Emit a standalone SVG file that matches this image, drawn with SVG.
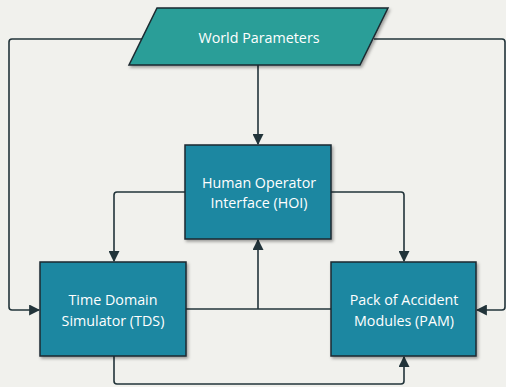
<svg xmlns="http://www.w3.org/2000/svg" width="506" height="387" viewBox="0 0 506 387">
<style>
.bg{fill:#f1f1ed}
.box{fill:#1d87a1;stroke:#1b2a30;stroke-width:1.5}
.wp{fill:#2b9e98;stroke:#1b2a30;stroke-width:1.5}
.t{font-family:"Open Sans","Liberation Sans",sans-serif;font-size:14.3px;fill:#ffffff;text-anchor:middle}
.c{fill:none;stroke:#22343a;stroke-width:1.6;stroke-linejoin:round}
</style>
<defs>
<marker id="ah" viewBox="0 0 10 10" refX="9" refY="5" markerWidth="11" markerHeight="11" markerUnits="userSpaceOnUse" orient="auto">
<path d="M0,0 L10,5 L0,10 z" fill="#22343a"/>
</marker>
<filter id="sh" x="-10%" y="-10%" width="130%" height="130%">
<feDropShadow dx="1.5" dy="2" stdDeviation="1.5" flood-color="#000" flood-opacity="0.35"/>
</filter>
</defs>
<rect class="bg" x="0" y="0" width="506" height="387"/>
<g id="connectors">
<path class="c" d="M143,39 H12 Q9,39 9,42 V307 Q9,310 12,310 H39" marker-end="url(#ah)"/>
<path class="c" d="M374,39 H502 Q505,39 505,42 V307 Q505,310 502,310 H477" marker-end="url(#ah)"/>
<path class="c" d="M258,65 V144" marker-end="url(#ah)"/>
<path class="c" d="M185,192 H117 Q114,192 114,195 V261" marker-end="url(#ah)"/>
<path class="c" d="M331,192 H401 Q404,192 404,195 V261" marker-end="url(#ah)"/>
<path class="c" d="M186,309 H331"/>
<path class="c" d="M258,309 V240" marker-end="url(#ah)"/>
<path class="c" d="M114,356 V381 Q114,384 117,384 H401 Q404,384 404,381 V357" marker-end="url(#ah)"/>
</g>
<g id="world-parameters">
<polygon class="wp" filter="url(#sh)" points="157,8 388,8 360,65 129,65"/>
<text class="t" x="259" y="43">World Parameters</text>
</g>
<g id="hoi">
<rect class="box" filter="url(#sh)" x="185" y="145" width="146" height="94"/>
<text class="t" x="259" y="188">Human Operator</text>
<text class="t" x="259" y="208">Interface (HOI)</text>
</g>
<g id="tds">
<rect class="box" filter="url(#sh)" x="40" y="262" width="146" height="94"/>
<text class="t" x="113" y="305">Time Domain</text>
<text class="t" x="113" y="326">Simulator (TDS)</text>
</g>
<g id="pam">
<rect class="box" filter="url(#sh)" x="331" y="262" width="145" height="94"/>
<text class="t" x="404" y="305">Pack of Accident</text>
<text class="t" x="404" y="326">Modules (PAM)</text>
</g>
</svg>
